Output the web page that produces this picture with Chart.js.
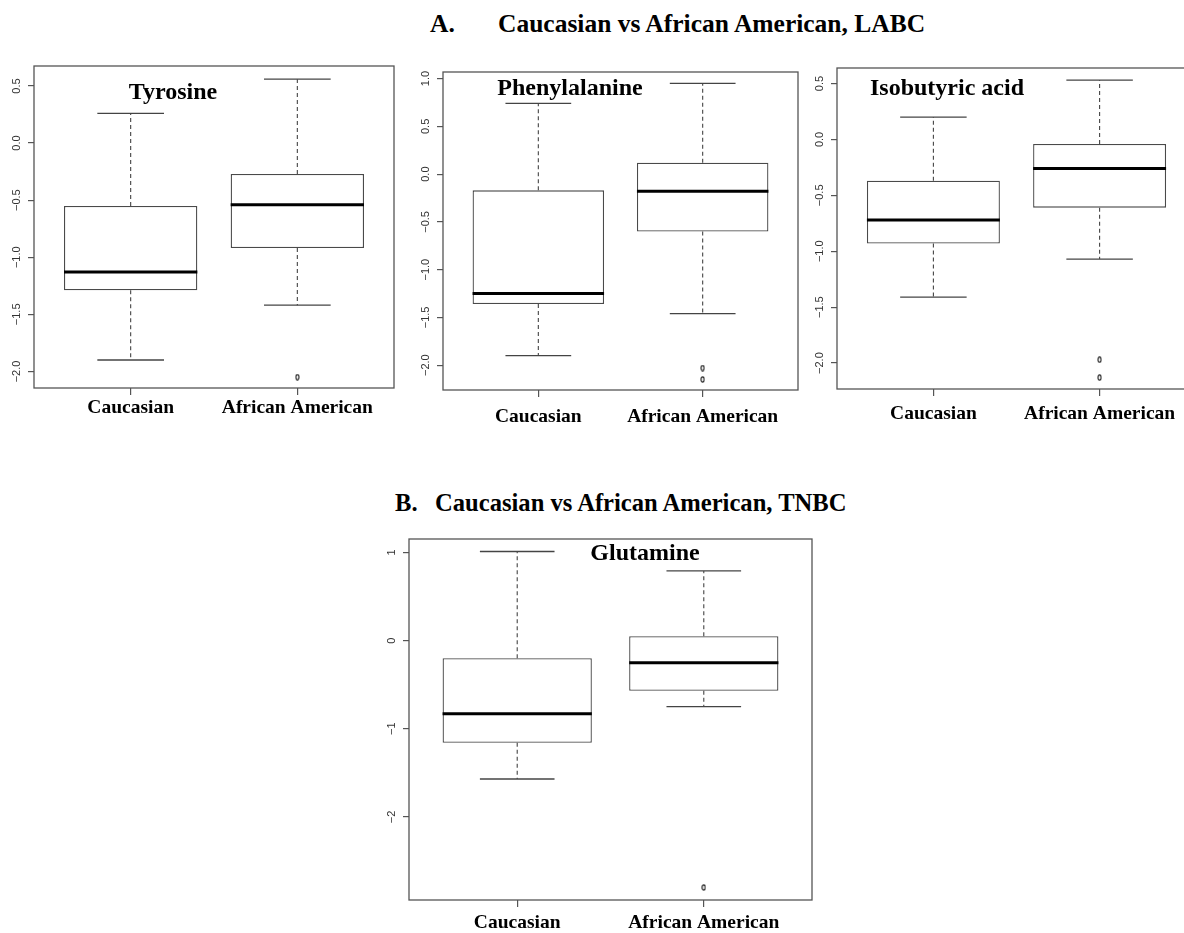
<!DOCTYPE html>
<html>
<head>
<meta charset="utf-8">
<script src="https://cdn.jsdelivr.net/npm/chart.js@4.4.0/dist/chart.umd.min.js"></script>
<style>
  html, body { margin: 0; padding: 0; background: #fff; overflow: hidden; }
  #page { position: relative; width: 1184px; height: 933px; overflow: hidden; }
  .title {
    position: absolute;
    font-family: "Liberation Serif", "Times New Roman", serif;
    font-weight: bold;
    line-height: 1;
    white-space: nowrap;
    color: #000;
  }
  canvas { position: absolute; }
</style>
</head>
<body>
<div id="page">
  <div class="title" style="left:430px; top:11px; font-size:25.5px;">A.</div>
  <div class="title" style="left:498px; top:11px; font-size:25.5px;">Caucasian vs African American, LABC</div>
  <div class="title" style="left:395px; top:491px; font-size:24.6px;">B.</div>
  <div class="title" style="left:435px; top:491px; font-size:24.6px;">Caucasian vs African American, TNBC</div>
  <canvas id="tyrosine"></canvas>
  <canvas id="phenylalanine"></canvas>
  <canvas id="isobutyric"></canvas>
  <canvas id="glutamine"></canvas>
</div>
<script>
const groups = ["Caucasian", "African American"];

// Tyrosine (LABC)
const tyrosineLow = [-1.90, -1.42];
const tyrosineQ1 = [-1.29, -0.92];
const tyrosineMedian = [-1.13, -0.54];
const tyrosineQ3 = [-0.55, -0.27];
const tyrosineHigh = [0.26, 0.56];
const tyrosineOutliers = [[], [-2.05]];
const tyrosineTicks = [-2, -1.5, -1, -0.5, 0, 0.5];
const tyrosineTickLabels = ["\u22122.0", "\u22121.5", "\u22121.0", "\u22120.5", "0.0", "0.5"];

// Phenylalanine (LABC)
const pheLow = [-1.90, -1.46];
const pheQ1 = [-1.36, -0.60];
const pheMedian = [-1.25, -0.18];
const pheQ3 = [-0.17, 0.12];
const pheHigh = [0.74, 0.95];
const pheOutliers = [[], [-2.03, -2.15]];
const pheTicks = [-2, -1.5, -1, -0.5, 0, 0.5, 1];
const pheTickLabels = ["\u22122.0", "\u22121.5", "\u22121.0", "\u22120.5", "0.0", "0.5", "1.0"];

// Isobutyric acid (LABC)
const isoLow = [-1.41, -1.07];
const isoQ1 = [-0.93, -0.61];
const isoMedian = [-0.72, -0.26];
const isoQ3 = [-0.37, -0.04];
const isoHigh = [0.20, 0.53];
const isoOutliers = [[], [-1.97, -2.13]];
const isoTicks = [-2, -1.5, -1, -0.5, 0, 0.5];
const isoTickLabels = ["\u22122.0", "\u22121.5", "\u22121.0", "\u22120.5", "0.0", "0.5"];

// Glutamine (TNBC)
const gluLow = [-1.57, -0.75];
const gluQ1 = [-1.16, -0.57];
const gluMedian = [-0.83, -0.25];
const gluQ3 = [-0.20, 0.05];
const gluHigh = [1.01, 0.79];
const gluOutliers = [[], [-2.80]];
const gluTicks = [-2, -1, 0, 1];
const gluTickLabels = ["\u22122", "\u22121", "0", "1"];

const AXIS_W = 40;
const AXIS_H = 48;
const PAD = 6;
const serif = "'Liberation Serif', 'Times New Roman', serif";
const sans = "'Liberation Sans', Arial, sans-serif";

const panels = [
  { id: "tyrosine", name: "Tyrosine", low: tyrosineLow, q1: tyrosineQ1, median: tyrosineMedian, q3: tyrosineQ3, high: tyrosineHigh, outliers: tyrosineOutliers, ticks: tyrosineTicks, tickLabels: tyrosineTickLabels, yMin: -2.145, yMax: 0.675, rect: [34, 66, 394, 388], nameAt: [139, 27], labelPad: 1 },
  { id: "phenylalanine", name: "Phenylalanine", low: pheLow, q1: pheQ1, median: pheMedian, q3: pheQ3, high: pheHigh, outliers: pheOutliers, ticks: pheTicks, tickLabels: pheTickLabels, yMin: -2.26, yMax: 1.069, rect: [443, 72, 798, 390], nameAt: [127, 17], labelPad: 8 },
  { id: "isobutyric", name: "Isobutyric acid", low: isoLow, q1: isoQ1, median: isoMedian, q3: isoQ3, high: isoHigh, outliers: isoOutliers, ticks: isoTicks, tickLabels: isoTickLabels, yMin: -2.232, yMax: 0.639, rect: [837, 68, 1196, 389], nameAt: [110, 21], labelPad: 6 },
  { id: "glutamine", name: "Glutamine", low: gluLow, q1: gluQ1, median: gluMedian, q3: gluQ3, high: gluHigh, outliers: gluOutliers, ticks: gluTicks, tickLabels: gluTickLabels, yMin: -2.942, yMax: 1.152, rect: [409, 539, 812, 900], nameAt: [236, 15], labelPad: 4 },
];

// small open oval used for outliers
const outlierMark = document.createElement("canvas");
outlierMark.width = 5;
outlierMark.height = 7;
{
  const c = outlierMark.getContext("2d");
  c.strokeStyle = "#222";
  c.lineWidth = 1.1;
  c.beginPath();
  c.ellipse(2.5, 3.5, 1.5, 2.6, 0, 0, Math.PI * 2);
  c.stroke();
}

// whiskers, medians, frame, rotated y labels and panel name
const boxParts = {
  id: "boxParts",
  afterDatasetsDraw(chart, args, opts) {
    const { ctx, chartArea: a, scales: { x, y } } = chart;
    const bars = chart.getDatasetMeta(0).data;
    const line = (x1, y1, x2, y2) => {
      ctx.beginPath();
      ctx.moveTo(x1, y1);
      ctx.lineTo(x2, y2);
      ctx.stroke();
    };
    ctx.save();
    bars.forEach((bar, i) => {
      const cx = x.getPixelForValue(i + 1);
      const half = bar.width / 2;
      const yLow = y.getPixelForValue(opts.low[i]);
      const yHigh = y.getPixelForValue(opts.high[i]);
      const yQ1 = y.getPixelForValue(opts.q1[i]);
      const yQ3 = y.getPixelForValue(opts.q3[i]);
      const yMed = y.getPixelForValue(opts.median[i]);

      ctx.strokeStyle = "#444";
      ctx.lineWidth = 1.1;
      ctx.setLineDash([4, 3]);
      line(cx, yQ3, cx, yHigh);
      line(cx, yQ1, cx, yLow);
      ctx.setLineDash([]);
      ctx.lineWidth = 1.3;
      line(cx - half / 2, yHigh, cx + half / 2, yHigh);
      line(cx - half / 2, yLow, cx + half / 2, yLow);

      ctx.strokeStyle = "#000";
      ctx.lineWidth = 3;
      line(cx - half, yMed, cx + half, yMed);
    });

    ctx.strokeStyle = "#555";
    ctx.lineWidth = 1.3;
    ctx.strokeRect(a.left, a.top, a.right - a.left, a.bottom - a.top);

    ctx.fillStyle = "#333";
    ctx.font = "11px " + sans;
    ctx.textAlign = "center";
    ctx.textBaseline = "middle";
    y.ticks.forEach((t, k) => {
      const py = y.getPixelForValue(t.value);
      ctx.save();
      ctx.translate(a.left - 17, py);
      ctx.rotate(-Math.PI / 2);
      ctx.fillText(opts.tickLabels[k], 0, 0);
      ctx.restore();
    });

    ctx.fillStyle = "#000";
    ctx.font = "bold 24px " + serif;
    ctx.fillText(opts.name, a.left + opts.nameAt[0], a.top + opts.nameAt[1]);
    ctx.restore();
  },
};

panels.forEach((p) => {
  const [L, T, R, B] = p.rect;
  const canvas = document.getElementById(p.id);
  const w = R - L + AXIS_W + PAD;
  const h = B - T + PAD + AXIS_H;
  canvas.width = w;
  canvas.height = h;
  canvas.style.width = w + "px";
  canvas.style.height = h + "px";
  canvas.style.left = (L - AXIS_W) + "px";
  canvas.style.top = (T - PAD) + "px";

  new Chart(canvas, {
    type: "bar",
    data: {
      datasets: [
        {
          type: "bar",
          data: groups.map((g, i) => ({ x: i + 1, y: [p.q1[i], p.q3[i]] })),
          backgroundColor: "#ffffff",
          borderColor: "#4a4a4a",
          borderWidth: 1.3,
          borderSkipped: false,
          barPercentage: 0.8,
          categoryPercentage: 1,
        },
        {
          type: "scatter",
          data: p.outliers.flatMap((vals, i) => vals.map((v) => ({ x: i + 1, y: v }))),
          pointStyle: outlierMark,
          pointRadius: 4,
        },
      ],
    },
    options: {
      responsive: false,
      animation: false,
      devicePixelRatio: 1,
      layout: { padding: { top: PAD, right: PAD, left: 0, bottom: 0 } },
      plugins: {
        legend: { display: false },
        tooltip: { enabled: false },
        boxParts: {
          name: p.name,
          low: p.low,
          q1: p.q1,
          median: p.median,
          q3: p.q3,
          high: p.high,
          tickLabels: p.tickLabels,
          nameAt: p.nameAt,
        },
      },
      scales: {
        x: {
          type: "linear",
          min: 0.42,
          max: 2.58,
          offset: false,
          afterBuildTicks: (s) => {
            s.ticks = groups.map((g, i) => ({ value: i + 1 }));
          },
          afterFit: (s) => {
            s.height = AXIS_H;
          },
          ticks: {
            callback: (v) => groups[v - 1],
            font: { family: serif, size: 19.5, weight: "bold" },
            color: "#000",
            padding: p.labelPad,
            autoSkip: false,
            maxRotation: 0,
          },
          grid: { offset: false, drawOnChartArea: false, drawTicks: true, tickLength: 7, color: "#555", lineWidth: 1.2 },
          border: { display: false },
        },
        y: {
          type: "linear",
          min: p.yMin,
          max: p.yMax,
          afterBuildTicks: (s) => {
            s.ticks = p.ticks.map((v) => ({ value: v }));
          },
          afterFit: (s) => {
            s.width = AXIS_W;
          },
          ticks: { display: false },
          grid: { drawOnChartArea: false, drawTicks: true, tickLength: 6, color: "#555", lineWidth: 1.2 },
          border: { display: false },
        },
      },
    },
    plugins: [boxParts],
  });
});
</script>
</body>
</html>
